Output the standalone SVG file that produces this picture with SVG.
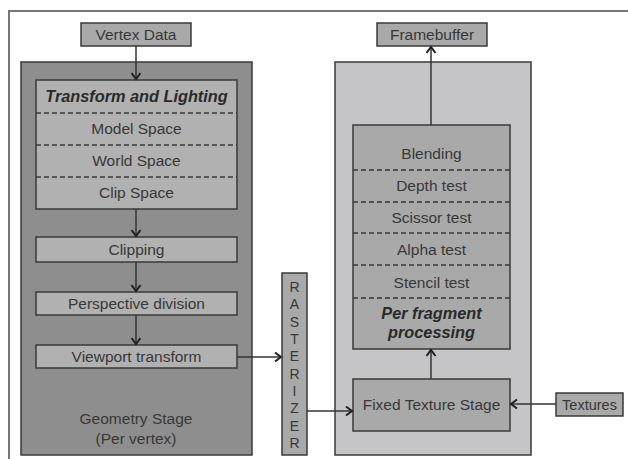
<svg xmlns="http://www.w3.org/2000/svg" width="628" height="459" viewBox="0 0 628 459">
  <style>
    .box { stroke: #3a3a3a; stroke-width: 1.5; }
    .step { fill: #b1b1b1; }
    .tag { fill: #a9a9a9; }
    .div { stroke: #3a3a3a; stroke-width: 1.5; stroke-dasharray: 5 3; fill: none; }
    .lbl { font-family: "Liberation Sans", Arial, sans-serif; font-size: 15.5px; fill: #383838; text-anchor: middle; }
    .em { font-weight: bold; font-style: italic; font-size: 16.3px; fill: #2a2a2a; }
    .link { stroke: #333; stroke-width: 1.5; fill: none; marker-end: url(#chev); }
  </style>
  <defs>
    <marker id="chev" markerUnits="userSpaceOnUse" markerWidth="12" markerHeight="12" refX="7" refY="5" orient="auto">
      <path d="M1,0.5 L7,5 L1,9.5" fill="none" stroke="#222" stroke-width="2"/>
    </marker>
  </defs>

  <rect width="628" height="459" fill="#ffffff"/>
  <!-- page frame -->
  <path d="M9,459 V11 H628" fill="none" stroke="#777" stroke-width="2"/>

  <!-- geometry stage -->
  <g id="geometry-stage">
    <rect x="21" y="62" width="231" height="393" fill="#8e8e8e" class="box"/>
    <text class="lbl" x="136" y="424">Geometry Stage</text>
    <text class="lbl" x="136" y="444">(Per vertex)</text>
  </g>

  <g id="vertex-data">
    <rect x="81" y="23" width="110" height="23" class="box tag"/>
    <text class="lbl" x="136" y="40">Vertex Data</text>
  </g>

  <g id="transform-lighting">
    <rect x="36" y="80" width="201" height="129" class="box step"/>
    <path class="div" d="M36,113 H237 M36,145 H237 M36,177 H237"/>
    <text class="lbl em" x="136.5" y="102">Transform and Lighting</text>
    <text class="lbl" x="136.5" y="134">Model Space</text>
    <text class="lbl" x="136.5" y="166">World Space</text>
    <text class="lbl" x="136.5" y="198">Clip Space</text>
  </g>

  <g id="clipping">
    <rect x="36" y="237" width="201" height="25" class="box step"/>
    <text class="lbl" x="136.5" y="255">Clipping</text>
  </g>

  <g id="perspective-division">
    <rect x="36" y="292" width="201" height="23" class="box step"/>
    <text class="lbl" x="136.5" y="309">Perspective division</text>
  </g>

  <g id="viewport-transform">
    <rect x="36" y="345" width="201" height="23" class="box step"/>
    <text class="lbl" x="136.5" y="362">Viewport transform</text>
  </g>

  <!-- rasterizer -->
  <g id="rasterizer">
    <rect x="282" y="273" width="25" height="182" class="box tag"/>
    <g class="lbl" style="font-size:14px">
      <text x="294.5" y="292">R</text>
      <text x="294.5" y="309">A</text>
      <text x="294.5" y="327">S</text>
      <text x="294.5" y="344">T</text>
      <text x="294.5" y="361">E</text>
      <text x="294.5" y="379">R</text>
      <text x="294.5" y="396">I</text>
      <text x="294.5" y="413">Z</text>
      <text x="294.5" y="431">E</text>
      <text x="294.5" y="448">R</text>
    </g>
  </g>

  <!-- fragment stage -->
  <g id="fragment-stage">
    <rect x="335" y="62" width="196" height="393" fill="#c5c5c7" class="box"/>
  </g>

  <g id="framebuffer">
    <rect x="377" y="23" width="110" height="23" class="box tag"/>
    <text class="lbl" x="432" y="40">Framebuffer</text>
  </g>

  <g id="per-fragment">
    <rect x="353" y="125" width="157" height="224" class="box tag"/>
    <path class="div" d="M353,170 H510 M353,202 H510 M353,233 H510 M353,265 H510 M353,298 H510"/>
    <text class="lbl" x="431.5" y="159">Blending</text>
    <text class="lbl" x="431.5" y="191">Depth test</text>
    <text class="lbl" x="431.5" y="223">Scissor test</text>
    <text class="lbl" x="431.5" y="255">Alpha test</text>
    <text class="lbl" x="431.5" y="288">Stencil test</text>
    <text class="lbl em" x="431.5" y="319">Per fragment</text>
    <text class="lbl em" x="431.5" y="338">processing</text>
  </g>

  <g id="fixed-texture-stage">
    <rect x="353" y="379" width="157" height="52" class="box tag"/>
    <text class="lbl" x="431.5" y="410">Fixed Texture Stage</text>
  </g>

  <g id="textures">
    <rect x="556" y="393" width="67" height="23" class="box tag"/>
    <text class="lbl" x="589.5" y="410" style="font-size:14.5px">Textures</text>
  </g>

  <!-- connectors -->
  <g id="connectors">
    <path class="link" d="M136,46 V79"/>
    <path class="link" d="M136,209 V236"/>
    <path class="link" d="M136,262 V291"/>
    <path class="link" d="M136,315 V344"/>
    <path class="link" d="M237,357 H281"/>
    <path class="link" d="M307,411 H352"/>
    <path class="link" d="M556,404 H511"/>
    <path class="link" d="M431,379 V350"/>
    <path class="link" d="M431,125 V47"/>
  </g>
</svg>
